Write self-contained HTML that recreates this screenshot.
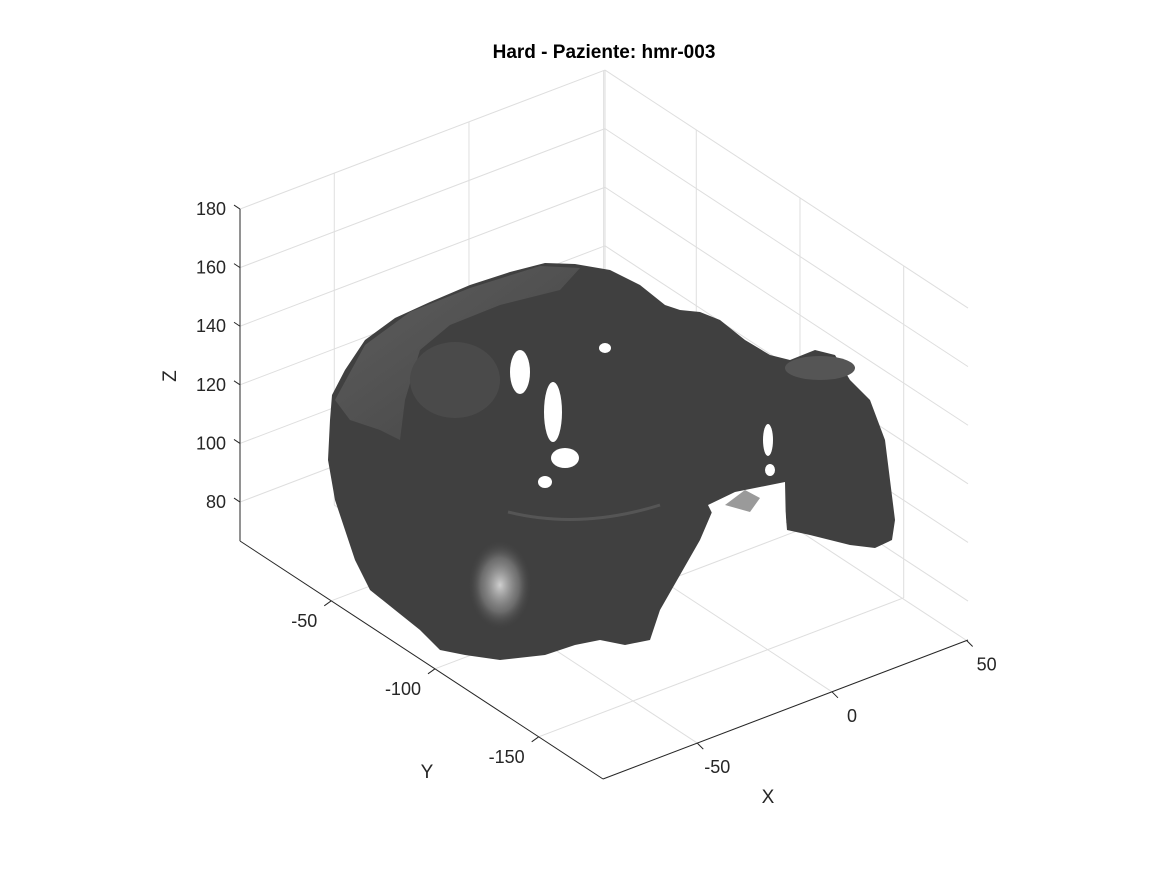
<!DOCTYPE html>
<html><head><meta charset="utf-8"><style>
html,body{margin:0;padding:0;background:#fff;}
svg{display:block;font-family:"Liberation Sans",sans-serif;}
</style></head><body>
<svg id="chart" width="1167" height="875" viewBox="0 0 1167 875" xmlns="http://www.w3.org/2000/svg">
<text x="604" y="58" text-anchor="middle" font-size="19" font-weight="bold" fill="#000">Hard - Paziente: hmr-003</text>
<g id="grid"></g>
<g id="skull">
  <defs>
    <radialGradient id="hl1" cx="0.5" cy="0.5" r="0.5"><stop offset="0" stop-color="#cfcfcf"/><stop offset="0.6" stop-color="#8a8a8a" stop-opacity="0.6"/><stop offset="1" stop-color="#404040" stop-opacity="0"/></radialGradient>
    <linearGradient id="rim" x1="0" y1="0" x2="1" y2="1"><stop offset="0" stop-color="#666"/><stop offset="1" stop-color="#444"/></linearGradient>
  </defs>
  <path fill="#404040" d="M330,420 L332,395 L345,370 L365,340 L395,318 L430,302 L470,285 L510,272 L545,263 L575,264 L610,270 L640,285 L665,305 L680,310 L700,312 L720,320 L745,340 L770,355 L790,360 L815,350 L835,355 L850,380 L870,400 L885,440 L895,520 L892,540 L875,548 L850,545 L810,535 L787,530 L785,505 L770,495 L740,500 L715,505 L700,540 L680,575 L660,610 L650,640 L625,645 L600,640 L575,645 L545,655 L500,660 L465,655 L440,650 L420,630 L395,610 L370,590 L355,560 L345,530 L335,500 L328,460 Z"/>
  <path fill="url(#rim)" opacity="0.8" d="M335,400 L365,345 L410,312 L470,288 L540,266 L580,268 L560,290 L500,305 L450,325 L420,350 L405,400 L400,440 L380,430 L350,420 Z"/>
  <ellipse cx="455" cy="380" rx="45" ry="38" fill="#4a4a4a"/>
  <ellipse cx="500" cy="585" rx="32" ry="45" fill="url(#hl1)"/>
  <ellipse cx="820" cy="368" rx="35" ry="12" fill="#555"/>
  <path d="M508,512 Q580,530 660,505" fill="none" stroke="#555" stroke-width="3"/>
  <g fill="#fff">
    <ellipse cx="520" cy="372" rx="10" ry="22"/>
    <ellipse cx="553" cy="412" rx="9" ry="30"/>
    <ellipse cx="565" cy="458" rx="14" ry="10"/>
    <ellipse cx="545" cy="482" rx="7" ry="6"/>
    <ellipse cx="605" cy="348" rx="6" ry="5"/>
    <ellipse cx="768" cy="440" rx="5" ry="16"/>
    <ellipse cx="770" cy="470" rx="5" ry="6"/>
    <path d="M708,505 L735,492 L785,482 L786,528 L762,514 L742,512 L722,533 Z"/>
  </g>
  <path fill="#9a9a9a" d="M725,505 L745,490 L760,498 L750,512 Z"/>
</g>
<g id="axes"></g>
<text x="176" y="376" text-anchor="middle" font-size="19" fill="#262626" transform="rotate(-90 176 376)">Z</text>
<text x="427" y="778" text-anchor="middle" font-size="19" fill="#262626">Y</text>
<text x="768" y="803" text-anchor="middle" font-size="19" fill="#262626">X</text>
<script>
const xTicks = [-50, 0, 50];
const yTicks = [-150, -100, -50];
const zTicks = [80, 100, 120, 140, 160, 180];
const xRange = [-85, 50.5];
const yRange = [-181, -6];
const zRange = [66.7, 180];
const NS = 'http://www.w3.org/2000/svg';
const F0 = [603, 779];
const ux = [365/135.5, -139/135.5];
const uy = [-363/175, -238/175];
const uz = -2.93;
function P(x, y, z) {
  const dx = x - xRange[0], dy = y - yRange[0], dz = z - zRange[0];
  return [F0[0] + dx*ux[0] + dy*uy[0], F0[1] + dx*ux[1] + dy*uy[1] + dz*uz];
}
function line(g, a, b, color, w, name) {
  const l = document.createElementNS(NS, 'line');
  l.setAttribute('x1', a[0]); l.setAttribute('y1', a[1]);
  l.setAttribute('x2', b[0]); l.setAttribute('y2', b[1]);
  l.setAttribute('stroke', color); l.setAttribute('stroke-width', w);
  
  
  g.appendChild(l);
}
function text(g, p, s, anchor, name) {
  const t = document.createElementNS(NS, 'text');
  t.setAttribute('x', p[0]); t.setAttribute('y', p[1]);
  t.setAttribute('text-anchor', anchor); t.setAttribute('font-size', '18');
  t.setAttribute('fill', '#262626');
  t.textContent = s;
  
  
  g.appendChild(t);
}
const grid = document.getElementById('grid');
const axes = document.getElementById('axes');
const gc = '#dedede';
const [x0, x1] = xRange, [y0, y1] = yRange, [z0, z1] = zRange;
zTicks.forEach(z => {
  line(grid, P(x0, y1, z), P(x1, y1, z), gc, 1, 'z-grid-line');
  line(grid, P(x1, y1, z), P(x1, y0, z), gc, 1, 'z-grid-line');
});
xTicks.forEach(x => {
  line(grid, P(x, y0, z0), P(x, y1, z0), gc, 1, 'x-grid-line');
  line(grid, P(x, y1, z0), P(x, y1, z1), gc, 1, 'x-grid-line');
});
yTicks.forEach(y => {
  line(grid, P(x0, y, z0), P(x1, y, z0), gc, 1, 'y-grid-line');
  line(grid, P(x1, y, z0), P(x1, y, z1), gc, 1, 'y-grid-line');
});
line(grid, P(x1, y1, z0), P(x1, y1, z1), gc, 1, 'back-edge');
const ac = '#262626';
line(axes, P(x0, y1, z0), P(x0, y1, z1), ac, 1, 'z-axis-line');
line(axes, P(x0, y1, z0), P(x0, y0, z0), ac, 1, 'y-axis-line');
line(axes, P(x0, y0, z0), P(x1, y0, z0), ac, 1, 'x-axis-line');
zTicks.forEach(z => {
  const p = P(x0, y1, z);
  line(axes, p, [p[0]-6, p[1]-4], ac, 1, 'z-tick');
  text(axes, [p[0]-14, p[1]+6], String(z), 'end', 'z-tick-label');
});
yTicks.forEach(y => {
  const p = P(x0, y, z0);
  line(axes, p, [p[0]-7, p[1]+5], ac, 1, 'y-tick');
  text(axes, [p[0]-14, p[1]+26], String(y), 'end', 'y-tick-label');
});
xTicks.forEach(x => {
  const p = P(x, y0, z0);
  line(axes, p, [p[0]+6, p[1]+6], ac, 1, 'x-tick');
  text(axes, [p[0]+20, p[1]+30], String(x), 'middle', 'x-tick-label');
});
</script>
</svg>
</body></html>
